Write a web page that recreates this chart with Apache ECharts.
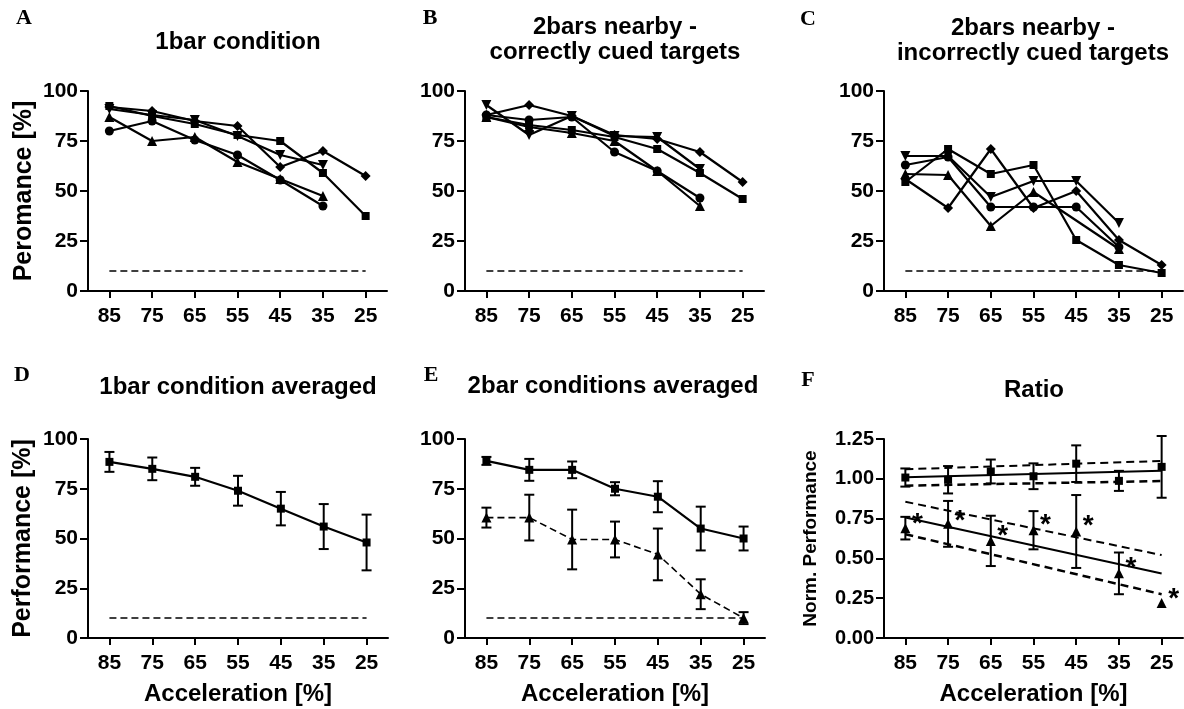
<!DOCTYPE html>
<html>
<head>
<meta charset="utf-8">
<script src="https://cdn.jsdelivr.net/npm/echarts@6/dist/echarts.min.js"></script>
<style>
html, body { margin: 0; padding: 0; background: #fff; }
#main { width: 1184px; height: 709px; }
</style>
</head>
<body>
<div id="main"></div>
<script>
// categories (acceleration %)
var accel = ['85', '75', '65', '55', '45', '35', '25'];
// chance level
var chance = [10, 10, 10, 10, 10, 10, 10];

// A: 1bar condition, one line per subject
var aCircle   = [80, 85, 75.5, 68, 55.5, 42.5, null];
var aSquare   = [92.5, 87.5, 83.5, 78, 75, 59, 37.5];
var aTriangle = [87, 75, 77, 64.5, 56, 47.5, null];
var aTriDown  = [91, 88, 85.5, 77.5, 68, 63, null];
var aDiamond  = [92, 90, 85, 82.5, 62, 70, 57.5];

// B: 2bars nearby - correctly cued
var bCircle   = [88, 85.5, 87, 69.5, 60, 46.5, null];
var bSquare   = [87, 83, 80.5, 77, 71, 59, 46];
var bTriangle = [87, 82, 79, 75, 60, 42.5, null];
var bTriDown  = [93, 78, 87.5, 77.5, 77, 61, null];
var bDiamond  = [88, 93, 87.5, 78, 76, 69.5, 54.5];

// C: 2bars nearby - incorrectly cued
var cCircle   = [63, 67, 42, 42, 42, 22, null];
var cSquare   = [54.5, 71, 58.5, 63, 25.5, 13, 9];
var cTriangle = [58.5, 58, 32.5, 49.5, null, 21, null];
var cTriDown  = [67.5, 67.5, 47, 55, 55, 34, null];
var cDiamond  = [56, 41.5, 71, 41.5, 50, 25.5, 13];

// D: 1bar averaged (mean, sem)
var dMean = [88.5, 85, 81, 74, 65, 56, 48];
var dErr  = [5, 5.7, 4.5, 7.5, 8.4, 11.3, 14];

// E: 2bar averaged
var eCorrect      = [89, 84.5, 84.5, 75, 71, 55, 50];
var eCorrectErr   = [2, 5.5, 4.2, 3.3, 7.8, 11, 6];
var eIncorrect    = [60.5, 60.5, 49.5, 49.5, 42, 22, 10];
var eIncorrectErr = [5, 11.5, 15, 9, 13, 7.5, 3];

// F: ratio
var fRatioA    = [1.008, 0.994, 1.046, 1.016, 1.095, 0.987, 1.075];
var fRatioAErr = [0.057, 0.086, 0.075, 0.081, 0.115, 0.063, 0.194];
var fRatioB    = [0.69, 0.717, 0.61, 0.677, 0.669, 0.406, 0.22];
var fRatioBErr = [0.071, 0.144, 0.158, 0.12, 0.229, 0.131, 0];
var fFitA      = [1.009, 1.051];   // regression at 85 and 25
var fFitAUp    = [1.06, 1.112];
var fFitALow   = [0.957, 0.986];
var fFitB      = [0.757, 0.405];
var fFitBUp    = [0.856, 0.521];
var fFitBLow   = [0.652, 0.275];
var fStars     = [0.76, 0.78, 0.68, 0.75, 0.745, 0.48, 0.29];

var SANS = '"Liberation Sans", Arial, sans-serif';
var SERIF = '"Liberation Serif", "Times New Roman", serif';

var grids = [
    { left: 88,  top: 91,  width: 299, height: 200 },
    { left: 465, top: 91,  width: 299, height: 200 },
    { left: 884, top: 91,  width: 299, height: 200 },
    { left: 88,  top: 439, width: 300, height: 199 },
    { left: 465, top: 439, width: 300, height: 199 },
    { left: 884, top: 439, width: 299, height: 199 }
];

function xAx(i) {
    return {
        type: 'category', gridIndex: i, data: accel, boundaryGap: true,
        name: i >= 3 ? 'Acceleration [%]' : '',
        nameLocation: 'middle', nameGap: 44,
        nameTextStyle: { fontFamily: SANS, fontSize: 24, fontWeight: 'bold', color: '#000' },
        axisLine: { show: true, onZero: false, lineStyle: { color: '#000', width: 2 } },
        axisTick: { show: true, alignWithLabel: true, length: 7, lineStyle: { color: '#000', width: 2 } },
        axisLabel: { fontFamily: SANS, fontSize: 21, fontWeight: 'bold', color: '#000', margin: 15 },
        splitLine: { show: false }
    };
}

function yAx(i, name, gap) {
    var ratio = i === 5;
    return {
        type: 'value', gridIndex: i,
        min: 0, max: ratio ? 1.25 : 100, interval: ratio ? 0.25 : 25,
        name: name || '', nameLocation: 'middle', nameGap: gap || 50,
        nameTextStyle: { fontFamily: SANS, fontSize: ratio ? 19 : 25, fontWeight: 'bold', color: '#000' },
        axisLine: { show: true, lineStyle: { color: '#000', width: 2 } },
        axisTick: { show: true, length: 8, lineStyle: { color: '#000', width: 2 } },
        axisLabel: {
            fontFamily: SANS, fontSize: ratio ? 20 : 21, fontWeight: 'bold', color: '#000', margin: 10,
            formatter: ratio ? function (v) { return v.toFixed(2); } : '{value}'
        },
        splitLine: { show: false }
    };
}

function trace(i, data, symbol, size, dashed) {
    return {
        type: 'line', xAxisIndex: i, yAxisIndex: i, data: data,
        symbol: symbol === 'tridown' ? 'triangle' : symbol,
        symbolRotate: symbol === 'tridown' ? 180 : 0,
        symbolSize: size, connectNulls: true,
        itemStyle: { color: '#000', opacity: 1 },
        lineStyle: { color: '#000', width: dashed ? 1.6 : 2.2, type: dashed ? [7, 4] : 'solid' },
        z: 3
    };
}

function chanceLine(i) {
    return {
        type: 'line', xAxisIndex: i, yAxisIndex: i, data: chance, symbol: 'none',
        lineStyle: { color: '#000', width: 1.5, type: [7, 4] }, z: 1
    };
}

function fitLine(i, ends, dashed, w) {
    return {
        type: 'line', xAxisIndex: i, yAxisIndex: i,
        data: [ends[0], null, null, null, null, null, ends[1]],
        connectNulls: true, symbol: 'none',
        lineStyle: { color: '#000', width: w, type: dashed ? [8, 5] : 'solid' }, z: 2
    };
}

function errorBars(i, mean, err) {
    return {
        type: 'custom', xAxisIndex: i, yAxisIndex: i,
        data: mean.map(function (m, k) { return [k, m - err[k], m + err[k]]; }),
        encode: { x: 0, y: [1, 2] },
        renderItem: function (params, api) {
            var lo = api.coord([api.value(0), api.value(1)]);
            var hi = api.coord([api.value(0), api.value(2)]);
            if (Math.abs(hi[1] - lo[1]) < 1) return null;
            var st = { stroke: '#000', lineWidth: 2 };
            return {
                type: 'group', children: [
                    { type: 'line', shape: { x1: lo[0], y1: lo[1], x2: hi[0], y2: hi[1] }, style: st },
                    { type: 'line', shape: { x1: lo[0] - 5, y1: lo[1], x2: lo[0] + 5, y2: lo[1] }, style: st },
                    { type: 'line', shape: { x1: hi[0] - 5, y1: hi[1], x2: hi[0] + 5, y2: hi[1] }, style: st }
                ]
            };
        },
        z: 2
    };
}

function dots(i, data, symbol, size) {
    return {
        type: 'scatter', xAxisIndex: i, yAxisIndex: i, data: data,
        symbol: symbol, symbolSize: size, itemStyle: { color: '#000', opacity: 1 }, z: 3
    };
}

function txt(x, y, text, font) {
    return {
        type: 'text', x: x, y: y, silent: true,
        style: { text: text, font: font, fill: '#000', textAlign: 'center', textVerticalAlign: 'middle' }
    };
}

var letterFont = 'bold 22px ' + SERIF;
var titleFont = 'bold 24px ' + SANS;

var series = [
    chanceLine(0),
    trace(0, aCircle, 'circle', 9), trace(0, aSquare, 'rect', 8), trace(0, aTriangle, 'triangle', 10),
    trace(0, aTriDown, 'tridown', 10), trace(0, aDiamond, 'diamond', 10),
    chanceLine(1),
    trace(1, bCircle, 'circle', 9), trace(1, bSquare, 'rect', 8), trace(1, bTriangle, 'triangle', 10),
    trace(1, bTriDown, 'tridown', 10), trace(1, bDiamond, 'diamond', 10),
    chanceLine(2),
    trace(2, cCircle, 'circle', 9), trace(2, cSquare, 'rect', 8), trace(2, cTriangle, 'triangle', 10),
    trace(2, cTriDown, 'tridown', 10), trace(2, cDiamond, 'diamond', 10),
    chanceLine(3),
    errorBars(3, dMean, dErr), trace(3, dMean, 'rect', 8),
    chanceLine(4),
    errorBars(4, eCorrect, eCorrectErr), trace(4, eCorrect, 'rect', 8),
    errorBars(4, eIncorrect, eIncorrectErr), trace(4, eIncorrect, 'triangle', 10, true),
    fitLine(5, fFitA, false, 2), fitLine(5, fFitAUp, true, 2), fitLine(5, fFitALow, true, 2.5),
    fitLine(5, fFitB, false, 2), fitLine(5, fFitBUp, true, 2), fitLine(5, fFitBLow, true, 2.5),
    errorBars(5, fRatioA, fRatioAErr), dots(5, fRatioA, 'rect', 8),
    errorBars(5, fRatioB, fRatioBErr), dots(5, fRatioB, 'triangle', 10),
    {
        type: 'scatter', xAxisIndex: 5, yAxisIndex: 5, data: fStars,
        symbolSize: 0.1, itemStyle: { color: '#000', opacity: 1 },
        label: {
            show: true, formatter: '*', position: 'inside', offset: [12, 7],
            fontFamily: SANS, fontSize: 28, fontWeight: 'bold', color: '#000', opacity: 1
        },
        z: 4
    }
];

var option = {
    animation: false,
    backgroundColor: '#fff',
    textStyle: { fontFamily: SANS },
    grid: grids,
    xAxis: [xAx(0), xAx(1), xAx(2), xAx(3), xAx(4), xAx(5)],
    yAxis: [
        yAx(0, 'Peromance [%]', 51), yAx(1), yAx(2),
        yAx(3, 'Performance [%]', 52), yAx(4), yAx(5, 'Norm. Performance', 64)
    ],
    series: series,
    graphic: [
        txt(24, 18, 'A', letterFont),
        txt(430, 18, 'B', letterFont),
        txt(808, 19, 'C', letterFont),
        txt(22, 375, 'D', letterFont),
        txt(431, 375, 'E', letterFont),
        txt(808, 380, 'F', letterFont),
        txt(238, 42, '1bar condition', titleFont),
        txt(615, 27, '2bars nearby -', titleFont),
        txt(615, 52, 'correctly cued targets', titleFont),
        txt(1033, 28, '2bars nearby -', titleFont),
        txt(1033, 53, 'incorrectly cued targets', titleFont),
        txt(238, 387, '1bar condition averaged', titleFont),
        txt(613, 386, '2bar conditions averaged', titleFont),
        txt(1034, 390, 'Ratio', titleFont)
    ]
};

var chart = echarts.init(document.getElementById('main'));
chart.setOption(option);
</script>
</body>
</html>
